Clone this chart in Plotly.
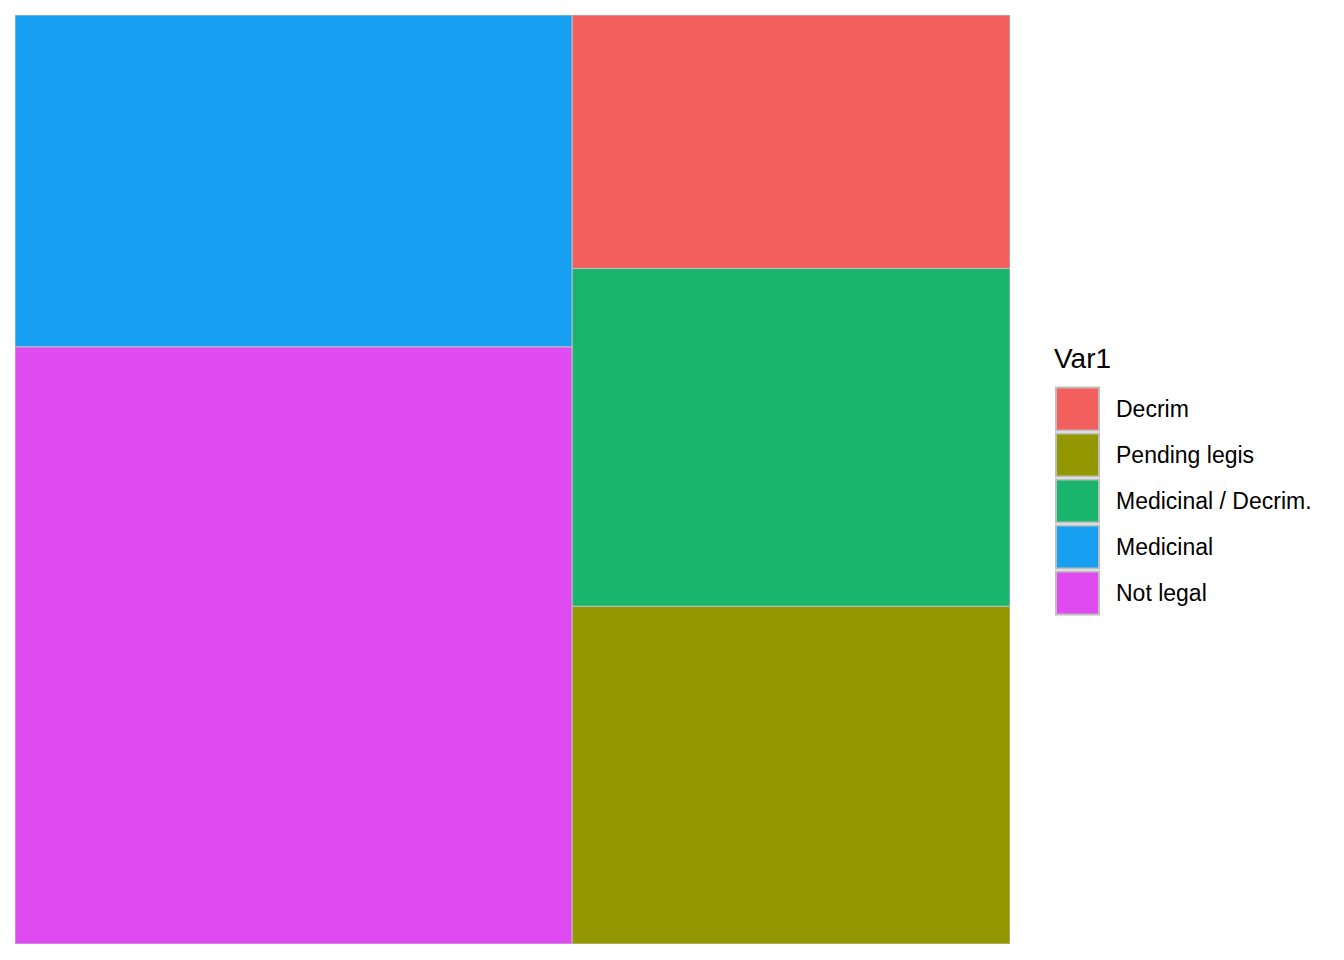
import plotly.graph_objects as go

# ---- data ----
categories = ["Decrim", "Pending legis", "Medicinal / Decrim.", "Medicinal", "Not legal"]
counts = [6, 8, 8, 10, 18]
colors = ["#F25F5C", "#939700", "#1AB56C", "#17A0F1", "#E04BF1"]
legend_title = "Var1"

# ---- figure geometry (pixels) ----
FIG_W, FIG_H = 1344, 960
M_L, M_R, M_T, M_B = 15, 334, 15, 16
PW, PH = FIG_W - M_L - M_R, FIG_H - M_T - M_B
FONT = "Liberation Sans, Arial, sans-serif"


def squarify(areas, x, y, w, h):
    """Squarified treemap (treemapify style: start bottom-left)."""
    rects = []
    items = list(areas)
    while items:
        short = min(w, h)

        def worst(row):
            s = sum(row)
            side = s / short
            return max(max(side / (r / side), (r / side) / side) for r in row)

        row = [items[0]]
        i = 1
        while i < len(items) and worst(row + [items[i]]) <= worst(row):
            row.append(items[i])
            i += 1
        thick = sum(row) / short
        if w >= h:
            yy = y
            for r in row:
                hh = r / thick
                rects.append((x, yy, thick, hh))
                yy += hh
            x += thick
            w -= thick
        else:
            xx = x
            for r in row:
                ww = r / thick
                rects.append((xx, y, ww, thick))
                xx += ww
            y += thick
            h -= thick
        items = items[i:]
    return rects


total = sum(counts)
order = sorted(range(len(counts)), key=lambda k: -counts[k])  # stable
areas = [counts[k] / total * PW * PH for k in order]
rects = squarify(areas, 0.0, 0.0, float(PW), float(PH))

fig = go.Figure()
for k, (rx, ry, rw, rh) in zip(order, rects):
    x0, x1 = rx / PW, (rx + rw) / PW
    y0, y1 = ry / PH, (ry + rh) / PH
    fig.add_trace(go.Scatter(
        x=[x0, x1, x1, x0, x0], y=[y0, y0, y1, y1, y0],
        mode="lines", fill="toself", fillcolor=colors[k],
        line=dict(color="#BEBEBE", width=1),
        name=categories[k], showlegend=False, hoverinfo="name",
    ))

# ---- manual ggplot-style legend ----
def px_x(p):
    return (p - M_L) / PW


def px_y(p):
    return (FIG_H - M_B - p) / PH


KEY_X0, KEY_SIZE, KEY_TOP, KEY_PITCH = 1056, 43, 387.5, 46
shapes = []
annotations = [dict(
    text=legend_title, xref="paper", yref="paper",
    x=px_x(1052), y=px_y(358), xanchor="left", yanchor="middle",
    showarrow=False, font=dict(family=FONT, size=28, color="black"),
)]
for i, (cat, col) in enumerate(zip(categories, colors)):
    top = KEY_TOP + i * KEY_PITCH
    shapes.append(dict(
        type="rect", xref="paper", yref="paper",
        x0=px_x(KEY_X0), x1=px_x(KEY_X0 + KEY_SIZE),
        y0=px_y(top + KEY_SIZE), y1=px_y(top),
        fillcolor=col, line=dict(color="#BEBEBE", width=2), layer="above",
    ))
    annotations.append(dict(
        text=cat, xref="paper", yref="paper",
        x=px_x(1113.5), y=px_y(top + KEY_SIZE / 2), xanchor="left", yanchor="middle",
        showarrow=False, font=dict(family=FONT, size=23, color="black"),
    ))

fig.update_layout(
    width=FIG_W, height=FIG_H,
    margin=dict(l=M_L, r=M_R, t=M_T, b=M_B, pad=0),
    paper_bgcolor="white", plot_bgcolor="white",
    showlegend=False,
    xaxis=dict(range=[0, 1], visible=False, fixedrange=True),
    yaxis=dict(range=[0, 1], visible=False, fixedrange=True),
    shapes=shapes, annotations=annotations,
    font=dict(family=FONT),
)

fig.write_html("out.html", config={"displayModeBar": False})
